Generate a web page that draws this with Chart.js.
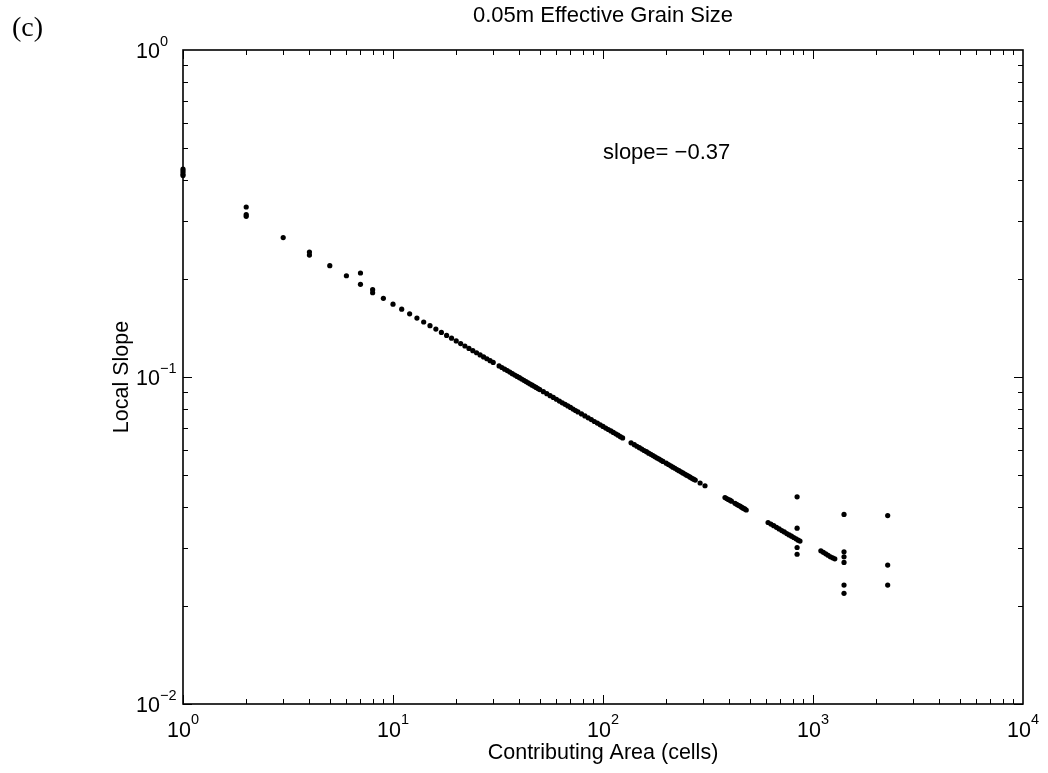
<!DOCTYPE html>
<html lang="en">
<head>
<meta charset="utf-8" />
<title>0.05m Effective Grain Size</title>
<script src="https://cdn.jsdelivr.net/npm/chart.js@4.4.1/dist/chart.umd.min.js"></script>
<style>
  html, body { margin: 0; padding: 0; background: #ffffff; }
  #wrap { width: 1048px; height: 773px; }
</style>
</head>
<body>
<div id="wrap"><canvas id="chart" width="1048" height="773"></canvas></div>
<script>
// main trend (contributing area in cells, local slope)
const lineArea = [
  1, 1, 1, 1, 2, 2, 2, 3, 4, 4, 5, 6, 7, 7, 8, 8, 9, 10,
  11, 12, 13, 14, 15, 16, 17, 18, 19, 20, 21, 22, 23, 24, 25, 26, 27, 28, 29, 30,
  32, 33, 34, 35, 36, 37, 38, 39, 40, 41, 42, 43, 44, 45, 46, 47, 48, 49, 50,
  52, 54, 56, 58, 60, 62, 64, 66, 68, 70, 72, 74, 76,
  79, 82, 85, 88, 91, 94, 97, 100, 103, 106, 109, 112, 115, 118, 121, 124,
  136, 141, 145, 149, 153, 157, 161, 165, 169, 173, 177, 181, 185, 189, 193,
  200, 205, 210, 215, 220, 225, 230, 235, 240, 245, 250, 255, 260, 265, 270, 275,
  290, 306,
  381, 388, 395, 402, 409, 425, 433, 441, 449, 457, 465, 473, 481,
  611, 630, 650, 670, 690, 710, 730, 750, 770, 790, 810, 830, 850, 867,
  1090, 1120, 1150, 1180, 1210, 1240, 1270
];
const lineSlope = [
  0.432, 0.425, 0.418, 0.413, 0.331, 0.314, 0.310, 0.267, 0.241, 0.236, 0.219, 0.204, 0.208, 0.192, 0.185, 0.181, 0.174, 0.167,
  0.1612, 0.1560, 0.1514, 0.1473, 0.1435, 0.1401, 0.1369, 0.1340, 0.1314, 0.1289, 0.1265, 0.1244, 0.1223, 0.1204, 0.1186, 0.1168, 0.1152, 0.1137, 0.1122, 0.1108,
  0.1081, 0.1069, 0.1057, 0.1046, 0.1035, 0.1024, 0.1014, 0.1004, 0.0995, 0.0986, 0.0977, 0.0968, 0.0960, 0.0952, 0.0944, 0.0937, 0.0929, 0.0922, 0.0915,
  0.0902, 0.0889, 0.0877, 0.0866, 0.0855, 0.0844, 0.0834, 0.0825, 0.0816, 0.0807, 0.0798, 0.0790, 0.0782,
  0.0771, 0.0760, 0.0750, 0.0741, 0.0731, 0.0723, 0.0714, 0.0706, 0.0698, 0.0691, 0.0684, 0.0677, 0.0670, 0.0664, 0.0657, 0.0651,
  0.0629, 0.0621, 0.0614, 0.0608, 0.0602, 0.0596, 0.0591, 0.0585, 0.0580, 0.0575, 0.0570, 0.0565, 0.0561, 0.0556, 0.0552,
  0.0545, 0.0540, 0.0535, 0.0530, 0.0526, 0.0521, 0.0517, 0.0513, 0.0509, 0.0505, 0.0501, 0.0498, 0.0494, 0.0490, 0.0487, 0.0484,
  0.0474, 0.0465,
  0.0428, 0.0425, 0.0422, 0.0420, 0.0417, 0.0411, 0.0408, 0.0405, 0.0403, 0.0400, 0.0397, 0.0395, 0.0392,
  0.0359, 0.0355, 0.0351, 0.0347, 0.0343, 0.0339, 0.0336, 0.0332, 0.0329, 0.0326, 0.0323, 0.0320, 0.0317, 0.0315,
  0.0294, 0.0291, 0.0288, 0.0285, 0.0282, 0.0280, 0.0278
];

// scattered points at the large areas
const outlierArea = [840, 840, 840, 840, 1405, 1405, 1405, 1405, 1405, 1405, 2268, 2268, 2268];
const outlierSlope = [0.0430, 0.0345, 0.0301, 0.0287, 0.0380, 0.0292, 0.0282, 0.0271, 0.0231, 0.0218, 0.0377, 0.0266, 0.0231];

// decade ticks: value and the exponent shown as superscript
const xTicks = [1, 10, 100, 1000, 10000];
const xTickExp = ["0", "1", "2", "3", "4"];
const yTicks = [0.01, 0.1, 1];
const yTickExp = ["\u22122", "\u22121", "0"];

const FONT = '"Liberation Sans", Arial, Helvetica, sans-serif';

const toPoints = (xs, ys) => xs.map((v, i) => ({ x: v, y: ys[i] }));

// white background, boxed axes with inward ticks, tick labels, annotations
const frame = {
  id: "frame",
  beforeDraw(chart) {
    const ctx = chart.ctx;
    ctx.save();
    ctx.fillStyle = "#ffffff";
    ctx.fillRect(0, 0, chart.width, chart.height);
    ctx.restore();
  },
  afterDraw(chart) {
    const { ctx, chartArea: a, scales } = chart;
    const x = scales.x, y = scales.y;
    const seg = (x1, y1, x2, y2) => { ctx.beginPath(); ctx.moveTo(x1, y1); ctx.lineTo(x2, y2); ctx.stroke(); };
    ctx.save();
    ctx.strokeStyle = "#000";
    ctx.lineWidth = 1;
    for (let d = 0; d < 4; d++) {
      for (let m = 1; m <= 9; m++) {
        const px = Math.round(x.getPixelForValue(m * Math.pow(10, d))) + 0.5;
        const len = m === 1 ? 9 : 5;
        seg(px, a.bottom, px, a.bottom - len);
        seg(px, a.top, px, a.top + len);
      }
    }
    for (let d = -2; d < 0; d++) {
      for (let m = 1; m <= 9; m++) {
        const py = Math.round(y.getPixelForValue(m * Math.pow(10, d))) + 0.5;
        const len = m === 1 ? 9 : 5;
        seg(a.left, py, a.left + len, py);
        seg(a.right, py, a.right - len, py);
      }
    }
    ctx.lineWidth = 1.6;
    ctx.strokeRect(a.left, a.top, a.right - a.left, a.bottom - a.top);

    ctx.fillStyle = "#000";
    ctx.textBaseline = "alphabetic";

    // tick labels as 10 with a raised exponent
    const base = "21.5px " + FONT, sup = "14.5px " + FONT;
    xTicks.forEach((v, i) => {
      const px = x.getPixelForValue(v);
      ctx.font = base;
      const wb = ctx.measureText("10").width;
      ctx.font = sup;
      const we = ctx.measureText(xTickExp[i]).width;
      const left = px - (wb + we) / 2;
      ctx.textAlign = "left";
      ctx.font = base;
      ctx.fillText("10", left, 737);
      ctx.font = sup;
      ctx.fillText(xTickExp[i], left + wb, 724);
    });
    yTicks.forEach((v, i) => {
      const py = y.getPixelForValue(v);
      ctx.textAlign = "right";
      ctx.font = base;
      ctx.fillText("10", 160, py + 8);
      ctx.textAlign = "left";
      ctx.font = sup;
      ctx.fillText(yTickExp[i], 160, py - 4);
    });

    ctx.font = "22px " + FONT;
    ctx.textAlign = "center";
    const cx = (a.left + a.right) / 2;
    ctx.fillText("0.05m Effective Grain Size", cx, 22);
    ctx.textAlign = "left";
    ctx.fillText("slope= \u22120.37", 603, 159);
    ctx.font = "21.5px " + FONT;
    ctx.textAlign = "center";
    ctx.fillText("Contributing Area (cells)", cx, 759);

    ctx.save();
    ctx.translate(128, (a.top + a.bottom) / 2);
    ctx.rotate(-Math.PI / 2);
    ctx.textAlign = "center";
    ctx.fillText("Local Slope", 0, 0);
    ctx.restore();

    ctx.font = '28px "Liberation Serif", "Times New Roman", serif';
    ctx.textAlign = "left";
    ctx.fillText("(c)", 12, 36);
    ctx.restore();
  }
};

const pointStyle = {
  backgroundColor: "#000000",
  borderWidth: 0,
  pointRadius: 2.6,
  pointHoverRadius: 2.6,
  clip: false
};

const zeroPad = (s) => { s.paddingLeft = 0; s.paddingRight = 0; s.paddingTop = 0; s.paddingBottom = 0; };

new Chart(document.getElementById("chart"), {
  type: "scatter",
  plugins: [frame],
  data: {
    datasets: [
      Object.assign({ label: "trend", data: toPoints(lineArea, lineSlope) }, pointStyle),
      Object.assign({ label: "scatter", data: toPoints(outlierArea, outlierSlope) }, pointStyle)
    ]
  },
  options: {
    responsive: false,
    animation: false,
    devicePixelRatio: 1,
    layout: { padding: { top: 50, right: 25, left: 0, bottom: 0 } },
    plugins: { legend: { display: false }, tooltip: { enabled: false }, title: { display: false } },
    scales: {
      x: {
        type: "logarithmic",
        min: 1,
        max: 10000,
        grid: { display: false },
        border: { display: false },
        afterBuildTicks: (s) => { s.ticks = xTicks.map((v) => ({ value: v })); },
        afterFit: (s) => { s.height = 69; zeroPad(s); },
        ticks: { display: false, autoSkip: false }
      },
      y: {
        type: "logarithmic",
        min: 0.01,
        max: 1,
        grid: { display: false },
        border: { display: false },
        afterBuildTicks: (s) => { s.ticks = yTicks.map((v) => ({ value: v })); },
        afterFit: (s) => { s.width = 183; zeroPad(s); },
        ticks: { display: false, autoSkip: false }
      }
    }
  }
});
</script>
</body>
</html>
